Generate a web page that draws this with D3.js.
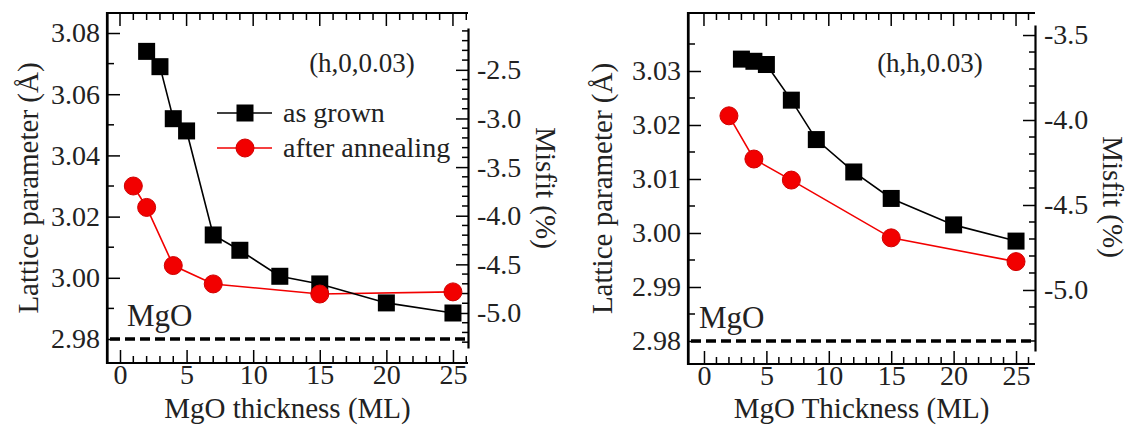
<!DOCTYPE html>
<html>
<head>
<meta charset="utf-8">
<script src="https://cdn.jsdelivr.net/npm/d3@7"></script>
<style>
  body { margin: 0; background: #fff; }
  svg, svg text { font-family: "Liberation Serif", "Times New Roman", Times, "DejaVu Serif", serif; }
  svg text { fill: #222; }
</style>
</head>
<body>
<svg id="chart" width="1132" height="444" font-family="Liberation Serif, serif"></svg>
<script>
// Panel (a): (h,0,0.03)
const thickGrownA = [2, 3, 4, 5, 7, 9, 12, 15, 20, 25];
const latticeGrownA = [3.074, 3.069, 3.052, 3.048, 3.014, 3.009, 3.0005, 2.998, 2.9918, 2.9885];
const thickAnnealA = [1, 2, 4, 7, 15, 25];
const latticeAnnealA = [3.030, 3.023, 3.004, 2.998, 2.9947, 2.9954];

// Panel (b): (h,h,0.03)
const thickGrownB = [3, 4, 5, 7, 9, 12, 15, 20, 25];
const latticeGrownB = [3.0322, 3.0318, 3.0312, 3.0246, 3.0173, 3.0113, 3.0064, 3.0015, 2.9985];
const thickAnnealB = [2, 4, 7, 15, 25];
const latticeAnnealB = [3.0217, 3.0137, 3.0098, 2.9991, 2.9947];

const mgoLattice = 2.98;
const seriesLabels = ["as grown", "after annealing"];

const svg = d3.select("#chart");
const FONT = 28;
const FAMILY = '"Liberation Serif", "Times New Roman", Times, "DejaVu Serif", serif';
const RED = "#f20000";

// Draws one panel given its pixel box and scale domains
function panel(cfg) {
  const g = svg.append("g");
  const { left, right, top, bottom } = cfg.box;

  const x = d3.scaleLinear().domain(cfg.xDomain).range([left, right]);
  const y = d3.scaleLinear().domain(cfg.yDomain).range([bottom, top]);
  const m = d3.scaleLinear().domain(cfg.mDomain).range(cfg.mRange);

  const xTicks = d3.range(0, 27);
  const isMajorX = (d) => d % 5 === 0;

  // bottom axis (ticks inward)
  const gb = g.append("g").attr("transform", `translate(0,${bottom})`);
  gb.call(d3.axisBottom(x).tickValues(xTicks.filter(isMajorX)).tickSizeInner(-13).tickSizeOuter(0).tickPadding(1).tickFormat(d3.format("d")));
  gb.append("g").selectAll("line").data(xTicks.filter((d) => !isMajorX(d))).join("line")
    .attr("x1", x).attr("x2", x).attr("y1", 0).attr("y2", -7).attr("stroke", "#000").attr("stroke-width", 1.5);

  // top axis (ticks inward, no labels)
  const gt = g.append("g").attr("transform", `translate(0,${top})`);
  gt.selectAll("line").data(xTicks).join("line")
    .attr("x1", x).attr("x2", x).attr("y1", 0).attr("y2", (d) => (isMajorX(d) ? 13 : 7))
    .attr("stroke", "#000").attr("stroke-width", 1.5);

  // left axis
  const gl = g.append("g").attr("transform", `translate(${left},0)`);
  gl.call(d3.axisLeft(y).tickValues(cfg.yMajor).tickSizeInner(-13).tickSizeOuter(0).tickPadding(7).tickFormat(d3.format(".2f")));
  gl.append("g").selectAll("line").data(cfg.yMinor).join("line")
    .attr("x1", 0).attr("x2", 7).attr("y1", y).attr("y2", y).attr("stroke", "#000").attr("stroke-width", 1.5);

  // right misfit axis
  const gr = g.append("g").attr("transform", `translate(${right},0)`);
  gr.call(d3.axisRight(m).tickValues(cfg.mMajor).tickSizeInner(-12).tickSizeOuter(0).tickPadding(9).tickFormat((d) => d.toFixed(1)));
  gr.append("g").selectAll("line").data(cfg.mMinor).join("line")
    .attr("x1", 0).attr("x2", -6).attr("y1", m).attr("y2", m).attr("stroke", "#000").attr("stroke-width", 1.5);

  [gb, gl, gr].forEach((a) => {
    a.attr("font-family", FAMILY).attr("font-size", FONT);
    a.selectAll("path.domain").attr("stroke-width", 2.2);
    a.selectAll(".tick line").attr("stroke-width", 1.5);
    a.selectAll("text").attr("font-size", FONT).attr("font-family", FAMILY).attr("fill", "#222");
  });
  gb.select("path.domain").remove();

  // frame: top, left, bottom lines
  g.append("path")
    .attr("d", `M${right},${top}H${left}V${bottom}H${right}`)
    .attr("fill", "none").attr("stroke", "#000").attr("stroke-width", 2.2);

  // MgO reference line
  g.append("line")
    .attr("x1", left + 3).attr("x2", right - 2).attr("y1", y(mgoLattice)).attr("y2", y(mgoLattice))
    .attr("stroke", "#000").attr("stroke-width", 3.5).attr("stroke-dasharray", "10,5");
  g.append("text").attr("x", cfg.mgoX).attr("y", y(mgoLattice) - 13)
    .attr("font-size", 31).text("MgO");

  const line = d3.line().x((d) => x(d[0])).y((d) => y(d[1]));

  const grown = d3.zip(cfg.grownX, cfg.grownY);
  const anneal = d3.zip(cfg.annealX, cfg.annealY);

  g.append("path").attr("d", line(anneal)).attr("fill", "none").attr("stroke", RED).attr("stroke-width", 1.6);
  g.append("path").attr("d", line(grown)).attr("fill", "none").attr("stroke", "#000").attr("stroke-width", 1.6);

  g.append("g").selectAll("rect").data(grown).join("rect")
    .attr("x", (d) => x(d[0]) - 8.5).attr("y", (d) => y(d[1]) - 8.5)
    .attr("width", 17).attr("height", 17).attr("fill", "#000");
  g.append("g").selectAll("circle").data(anneal).join("circle")
    .attr("cx", (d) => x(d[0])).attr("cy", (d) => y(d[1])).attr("r", 9)
    .attr("fill", RED).attr("stroke", "#d00000").attr("stroke-width", 1);

  // annotation
  g.append("text").attr("x", cfg.labelX).attr("y", 72).attr("text-anchor", "middle")
    .attr("font-size", FONT - 1).text(cfg.label);

  // axis titles
  g.append("text").attr("x", (left + right) / 2).attr("y", 418).attr("text-anchor", "middle")
    .attr("font-size", FONT + 1).text(cfg.xTitle);
  g.append("text").attr("transform", `translate(${cfg.yTitleX},${(top + bottom) / 2}) rotate(-90)`)
    .attr("text-anchor", "middle").attr("font-size", FONT + 1).text("Lattice parameter (Å)");
  g.append("text").attr("transform", `translate(${cfg.mTitleX},${cfg.mTitleY}) rotate(90)`)
    .attr("text-anchor", "middle").attr("font-size", FONT + 1).text("Misfit (%)");

  g.selectAll("text").attr("font-family", FAMILY);
  return { x, y, g };
}

const a = panel({
  box: { left: 107, right: 468, top: 13, bottom: 363 },
  xDomain: [-0.976, 26.13],
  yDomain: [2.97216, 3.08654],
  yMajor: d3.range(2.98, 3.081, 0.02),
  yMinor: d3.range(2.99, 3.08, 0.02),
  mDomain: [-5.36, -2.07],
  mRange: [348, 28],
  mMajor: [-5.0, -4.5, -4.0, -3.5, -3.0, -2.5],
  mMinor: d3.range(-53, -20).filter((d) => d % 5 !== 0).map((d) => d / 10),
  grownX: thickGrownA, grownY: latticeGrownA,
  annealX: thickAnnealA, annealY: latticeAnnealA,
  label: "(h,0,0.03)", labelX: 362,
  xTitle: "MgO thickness (ML)",
  yTitleX: 38, mTitleX: 536, mTitleY: 188,
  mgoX: 127,
});

const b = panel({
  box: { left: 688, right: 1035, top: 13, bottom: 364 },
  xDomain: [-1.28, 26.52],
  yDomain: [2.97574, 3.04074],
  yMajor: d3.range(2.98, 3.031, 0.01),
  yMinor: d3.range(2.985, 3.04, 0.01),
  mDomain: [-5.359, -3.441],
  mRange: [351, 25],
  mMajor: [-5.0, -4.5, -4.0, -3.5],
  mMinor: d3.range(-53, -34).filter((d) => d % 5 !== 0).map((d) => d / 10),
  grownX: thickGrownB, grownY: latticeGrownB,
  annealX: thickAnnealB, annealY: latticeAnnealB,
  label: "(h,h,0.03)", labelX: 930,
  xTitle: "MgO Thickness (ML)",
  yTitleX: 612, mTitleX: 1103, mTitleY: 197,
  mgoX: 699,
});

// legend in panel (a)
const leg = a.g.append("g");
seriesLabels.forEach((label, i) => {
  const ly = 113 + i * 35;
  leg.append("line").attr("x1", 217).attr("x2", 272).attr("y1", ly).attr("y2", ly)
    .attr("stroke", i === 0 ? "#000" : RED).attr("stroke-width", 1.6);
  if (i === 0) {
    leg.append("rect").attr("x", 236.5).attr("y", ly - 8.5).attr("width", 17).attr("height", 17).attr("fill", "#000");
  } else {
    leg.append("circle").attr("cx", 245).attr("cy", ly).attr("r", 9).attr("fill", RED).attr("stroke", "#d00000");
  }
  leg.append("text").attr("x", 283).attr("y", ly + 9).attr("font-size", FONT).attr("font-family", FAMILY).text(label);
});
</script>
</body>
</html>
